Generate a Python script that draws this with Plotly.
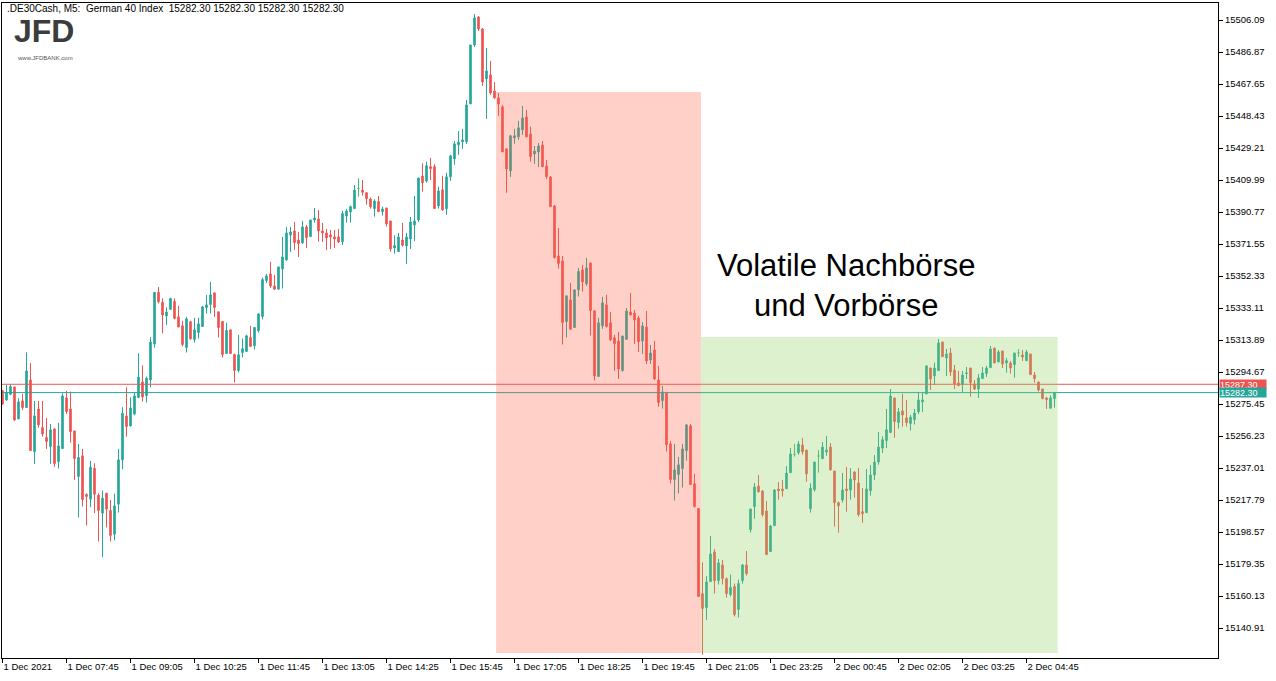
import plotly.graph_objects as go

# ---------------- data (M5 candles, .DE30Cash) ----------------
OPEN = [15283.5,15277.9,15281.3,15285.7,15266.5,15277.3,15273.3,15289.9,15246.9,15272.5,
        15261.3,15255.3,15249.9,15260.5,15240.9,15248.7,15279.1,15272.5,15259.3,15231.9,
        15244.3,15221.1,15218.3,15236.9,15220.7,15209.9,15221.9,15211.5,15197.3,15215.3,
        15241.9,15268.3,15262.3,15269.5,15279.3,15288.7,15280.5,15289.9,15311.5,15342.5,
        15336.5,15328.3,15332.3,15337.1,15327.8,15322.4,15309.4,15324.8,15314.2,15318.4,
        15322.0,15333.4,15335.2,15342.2,15330.8,15325.0,15305.8,15320.0,15305.2,15295.6,
        15306.4,15307.0,15315.4,15310.4,15319.6,15328.0,15349.6,15353.6,15346.4,15344.4,
        15356.6,15362.0,15377.0,15379.4,15374.0,15372.2,15381.8,15376.0,15386.0,15386.6,
        15379.4,15378.2,15377.0,15375.8,15375.8,15373.0,15388.4,15390.8,15392.8,15404.8,
        15404.0,15402.4,15398.6,15392.8,15397.0,15391.0,15393.2,15385.4,15369.2,15367.0,
        15374.0,15370.4,15374.6,15383.0,15386.0,15412.4,15409.4,15418.0,15418.0,15394.4,
        15404.1,15392.7,15411.9,15422.7,15431.1,15432.9,15432.9,15455.7,15491.1,15507.9,
        15500.7,15470.7,15473.1,15463.5,15459.3,15453.9,15428.7,15415.5,15435.3,15435.9,
        15440.1,15447.9,15437.6,15425.6,15426.8,15431.0,15418.4,15411.8,15394.4,15364.4,
        15361.4,15325.0,15338.0,15321.4,15344.0,15356.0,15347.6,15360.2,15331.4,15292.0,
        15322.4,15335.0,15324.2,15315.2,15313.3,15295.5,15314.3,15330.7,15330.1,15327.1,
        15313.3,15321.7,15301.9,15307.9,15289.9,15277.5,15281.9,15251.5,15230.1,15233.1,
        15236.7,15247.5,15262.3,15227.5,15212.7,15161.5,15153.2,15168.8,15186.6,15169.4,
        15178.8,15170.6,15161.0,15165.8,15152.0,15169.4,15178.8,15200.0,15213.8,15226.2,
        15223.2,15211.2,15186.8,15202.4,15224.4,15224.4,15224.6,15234.2,15245.2,15246.2,
        15250.8,15247.8,15212.6,15224.0,15244.2,15242.6,15246.6,15249.6,15235.2,15216.2,
        15217.8,15224.4,15223.8,15234.6,15228.0,15210.8,15210.2,15223.4,15232.8,15240.6,
        15249.0,15253.5,15258.3,15279.1,15264.3,15271.3,15267.1,15263.7,15266.1,15270.7,
        15276.7,15281.5,15297.1,15292.3,15295.5,15312.7,15303.1,15306.1,15295.9,15288.1,
        15287.5,15293.7,15297.1,15287.5,15284.5,15290.7,15293.7,15297.3,15309.1,15300.7,
        15307.3,15300.1,15300.1,15299.1,15306.1,15304.9,15301.5,15305.5,15292.9,15288.7,
        15284.5,15279.1,15272.9,15278.7]
HIGH = [15283.9,15286.9,15287.3,15285.7,15278.9,15281.5,15306.5,15300.1,15277.3,15277.3,
        15277.3,15267.1,15263.5,15260.9,15264.1,15281.9,15283.3,15282.9,15259.3,15251.5,
        15248.5,15221.9,15241.3,15239.9,15221.9,15223.5,15221.9,15217.9,15221.5,15248.5,
        15273.5,15285.5,15279.5,15282.3,15305.9,15298.7,15291.9,15315.7,15342.5,15345.7,
        15338.9,15333.5,15338.9,15338.9,15334.4,15325.4,15327.8,15325.4,15327.2,15327.2,
        15334.4,15341.0,15348.8,15342.2,15330.8,15325.0,15324.2,15320.0,15305.6,15317.0,
        15314.8,15317.0,15322.4,15321.4,15329.6,15351.4,15353.6,15360.8,15353.0,15357.8,
        15375.8,15381.8,15381.8,15384.8,15378.8,15385.4,15383.0,15386.0,15393.2,15392.0,
        15384.2,15380.6,15380.0,15380.0,15380.6,15391.4,15392.6,15394.6,15407.0,15411.0,
        15410.0,15402.4,15399.4,15398.4,15400.4,15394.0,15393.2,15385.4,15376.8,15378.2,
        15384.2,15378.2,15387.8,15400.4,15411.2,15420.0,15421.0,15423.2,15419.4,15406.0,
        15412.5,15414.3,15425.1,15433.5,15439.5,15440.7,15458.1,15491.1,15509.7,15508.5,
        15501.3,15489.3,15481.5,15468.9,15462.3,15455.1,15428.7,15437.1,15440.7,15445.5,
        15454.5,15452.1,15442.0,15430.4,15432.2,15433.4,15422.0,15412.4,15395.0,15381.2,
        15364.4,15340.4,15348.2,15344.0,15357.2,15359.0,15363.2,15360.2,15331.4,15327.2,
        15339.8,15341.0,15330.8,15317.0,15318.7,15316.3,15333.1,15342.1,15331.9,15328.3,
        15324.7,15331.3,15310.9,15313.3,15298.3,15286.3,15281.9,15253.3,15251.5,15243.7,
        15251.5,15263.5,15263.5,15233.5,15212.7,15180.3,15172.2,15196.2,15188.4,15182.4,
        15181.8,15171.2,15173.0,15167.6,15170.0,15179.4,15187.2,15212.4,15228.0,15232.8,
        15223.8,15217.2,15202.8,15224.4,15228.6,15229.8,15238.2,15249.0,15251.4,15253.2,
        15255.0,15247.8,15227.8,15240.6,15247.8,15252.6,15256.2,15252.0,15235.2,15216.8,
        15234.0,15237.6,15237.0,15235.2,15237.0,15225.0,15236.4,15238.8,15244.8,15258.6,
        15256.0,15272.5,15284.5,15279.1,15273.1,15281.5,15277.9,15268.9,15272.5,15282.7,
        15282.7,15298.9,15297.1,15300.3,15314.5,15312.7,15308.5,15309.1,15298.9,15295.3,
        15295.3,15297.7,15297.1,15289.9,15293.5,15297.7,15298.3,15310.3,15309.1,15307.9,
        15307.3,15303.1,15301.3,15306.1,15308.5,15307.9,15307.9,15305.5,15294.7,15288.7,
        15284.5,15279.7,15280.7,15282.3]
LOW = [15274.9,15277.3,15280.7,15265.3,15266.5,15271.9,15273.3,15247.5,15239.5,15261.3,
       15255.9,15248.5,15239.5,15237.7,15236.7,15248.7,15269.5,15252.3,15229.9,15207.3,
       15213.9,15202.5,15213.5,15209.9,15192.9,15183.5,15201.3,15192.9,15193.5,15210.3,
       15236.3,15255.9,15261.9,15268.7,15279.3,15276.9,15276.3,15285.5,15309.3,15335.9,
       15317.9,15322.9,15331.9,15326.3,15321.4,15310.0,15306.4,15314.0,15312.4,15314.8,
       15322.0,15329.8,15329.8,15327.8,15315.4,15303.4,15305.8,15305.8,15288.4,15294.4,
       15303.4,15307.0,15310.0,15308.2,15318.4,15326.2,15348.0,15345.2,15344.0,15344.4,
       15344.8,15361.4,15366.8,15368.0,15363.8,15371.6,15369.2,15376.0,15384.4,15373.0,
       15372.8,15368.0,15368.6,15369.2,15372.2,15371.0,15384.4,15384.4,15392.8,15400.0,
       15400.6,15395.2,15392.8,15388.0,15391.0,15388.6,15382.0,15367.0,15365.8,15367.0,
       15370.0,15359.6,15368.6,15373.4,15384.8,15403.0,15408.4,15410.0,15392.8,15392.8,
       15391.5,15389.1,15409.5,15419.1,15425.1,15428.7,15431.7,15455.7,15489.9,15499.5,
       15466.5,15446.7,15461.1,15458.7,15448.5,15426.9,15402.3,15411.9,15431.7,15434.1,
       15437.1,15435.9,15421.0,15419.6,15417.8,15418.0,15410.6,15394.0,15362.8,15356.8,
       15311.2,15315.4,15320.0,15321.4,15340.0,15343.0,15346.4,15316.6,15289.6,15292.0,
       15320.6,15321.4,15313.4,15295.4,15290.5,15294.9,15313.9,15328.9,15311.5,15306.7,
       15305.5,15299.5,15299.5,15289.9,15273.9,15272.7,15246.9,15227.7,15217.5,15221.7,
       15225.3,15241.5,15227.1,15213.3,15159.9,15124.9,15145.8,15168.8,15161.6,15167.0,
       15167.0,15159.2,15159.8,15147.8,15147.2,15167.6,15172.4,15198.2,15206.6,15222.2,
       15207.8,15185.0,15186.8,15202.4,15218.0,15219.8,15224.6,15234.2,15243.8,15245.0,
       15245.0,15228.8,15210.2,15222.8,15234.2,15242.6,15244.4,15235.4,15201.8,15198.2,
       15216.2,15210.8,15218.0,15219.2,15207.8,15204.2,15210.2,15220.4,15229.8,15239.0,
       15246.0,15249.0,15258.3,15255.3,15260.7,15261.9,15261.9,15259.5,15263.1,15269.5,
       15270.7,15281.5,15283.9,15286.9,15295.5,15303.9,15292.3,15292.3,15284.5,15286.1,
       15282.1,15290.5,15279.9,15283.9,15279.1,15290.7,15291.7,15297.3,15300.1,15300.7,
       15297.1,15294.3,15293.7,15291.3,15303.7,15301.3,15301.3,15293.1,15288.3,15282.9,
       15278.3,15272.5,15272.9,15273.3]
CLOSE = [15275.5,15282.5,15285.9,15265.9,15276.7,15273.3,15295.3,15247.5,15268.3,15262.9,
         15257.5,15252.9,15259.9,15239.7,15250.3,15280.3,15270.9,15258.9,15242.7,15243.3,
         15218.1,15219.9,15237.5,15221.3,15211.5,15218.9,15212.3,15196.5,15214.3,15241.9,
         15269.9,15261.9,15273.1,15280.3,15291.5,15279.7,15290.9,15312.7,15342.5,15336.9,
         15328.9,15330.7,15338.9,15326.9,15321.8,15311.2,15326.6,15314.6,15320.0,15323.6,
         15333.8,15335.0,15341.0,15333.4,15321.4,15305.2,15319.6,15305.8,15295.6,15305.0,
         15308.6,15316.4,15310.0,15321.4,15329.6,15350.2,15352.4,15346.4,15344.4,15357.8,
         15363.8,15378.2,15378.8,15372.4,15371.8,15381.8,15375.4,15386.0,15387.2,15379.4,
         15378.2,15375.2,15375.8,15374.6,15372.8,15389.8,15391.4,15394.0,15404.0,15404.8,
         15402.6,15398.8,15394.0,15397.4,15391.0,15392.6,15383.6,15368.6,15370.6,15375.8,
         15370.8,15375.8,15384.8,15385.4,15411.2,15408.4,15418.6,15416.8,15392.8,15403.4,
         15392.1,15411.9,15424.5,15431.7,15432.7,15434.1,15455.1,15491.1,15507.3,15500.7,
         15468.9,15475.5,15462.3,15459.3,15455.7,15426.9,15416.7,15436.5,15436.5,15441.3,
         15447.3,15435.9,15424.0,15427.4,15430.4,15418.0,15412.0,15394.0,15363.4,15359.8,
         15324.4,15340.4,15320.4,15344.0,15355.0,15348.8,15357.2,15331.6,15292.4,15324.2,
         15336.2,15322.0,15314.0,15311.6,15296.5,15316.3,15331.3,15328.9,15325.9,15312.9,
         15322.3,15301.3,15306.1,15290.5,15276.3,15282.7,15251.1,15230.1,15235.9,15238.9,
         15248.5,15262.9,15227.1,15213.9,15159.9,15152.7,15168.6,15185.4,15169.4,15180.0,
         15170.6,15161.6,15165.2,15149.0,15167.6,15178.8,15173.6,15212.4,15225.6,15222.8,
         15209.0,15185.0,15202.2,15223.8,15223.4,15223.4,15234.0,15245.4,15245.2,15251.4,
         15246.8,15233.6,15224.8,15240.6,15244.2,15249.6,15247.8,15236.0,15216.2,15214.4,
         15223.8,15223.4,15230.4,15229.8,15209.0,15209.6,15224.4,15232.8,15240.6,15249.6,
         15254.0,15260.0,15280.3,15264.9,15270.7,15268.9,15264.3,15267.5,15270.1,15277.9,
         15277.9,15298.3,15290.5,15297.1,15312.1,15303.9,15305.5,15294.7,15287.5,15286.5,
         15292.9,15294.1,15288.3,15284.5,15291.1,15294.1,15297.1,15308.5,15300.1,15306.7,
         15299.5,15301.5,15297.1,15306.1,15306.1,15303.7,15306.7,15293.1,15290.7,15283.9,
         15278.7,15278.1,15279.1,15282.3]

TIME_TICK_INDEX = [0, 16, 32, 48, 64, 80, 96, 112, 128, 144, 160, 176, 192, 208, 224, 240, 256]
TIME_TICK_LABELS = ["1 Dec 2021", "1 Dec 07:45", "1 Dec 09:05", "1 Dec 10:25", "1 Dec 11:45",
                    "1 Dec 13:05", "1 Dec 14:25", "1 Dec 15:45", "1 Dec 17:05", "1 Dec 18:25",
                    "1 Dec 19:45", "1 Dec 21:05", "1 Dec 23:25", "2 Dec 00:45", "2 Dec 02:05",
                    "2 Dec 03:25", "2 Dec 04:45"]
PRICE_TICKS = [15506.09, 15486.87, 15467.65, 15448.43, 15429.21, 15409.99, 15390.77, 15371.55,
               15352.33, 15333.11, 15313.89, 15294.67, 15275.45, 15256.23, 15237.01, 15217.79,
               15198.57, 15179.35, 15160.13, 15140.91]
ASK_PRICE = 15287.30
BID_PRICE = 15282.30
HEADER = ".DE30Cash, M5:  German 40 Index  15282.30 15282.30 15282.30 15282.30"
NOTE_LINES = ["Volatile Nachbörse", "und Vorbörse"]

# zones (candle index range, price range)
RED_ZONE = dict(x0=123.4, x1=174.6, y0=15125.9, y1=15462.8)
GREEN_ZONE = dict(x0=174.6, x1=263.8, y0=15125.9, y1=15315.7)

BULL = "#26A69A"
BEAR = "#EF5350"
DOJI = "#3DBE6E"

idx = list(range(len(OPEN)))
norm = [i for i in idx if OPEN[i] != CLOSE[i]]
doji = [i for i in idx if OPEN[i] == CLOSE[i]]

def pick(arr, ids):
    return [arr[i] for i in ids]

fig = go.Figure()
fig.add_trace(go.Candlestick(
    x=norm, open=pick(OPEN, norm), high=pick(HIGH, norm), low=pick(LOW, norm), close=pick(CLOSE, norm),
    increasing=dict(line=dict(color=BULL, width=1), fillcolor=BULL),
    decreasing=dict(line=dict(color=BEAR, width=1), fillcolor=BEAR),
    whiskerwidth=0, showlegend=False, hoverinfo="skip"))
fig.add_trace(go.Candlestick(
    x=doji, open=pick(OPEN, doji), high=pick(HIGH, doji), low=pick(LOW, doji), close=pick(CLOSE, doji),
    increasing=dict(line=dict(color=DOJI, width=1), fillcolor=DOJI),
    decreasing=dict(line=dict(color=DOJI, width=1), fillcolor=DOJI),
    whiskerwidth=0, showlegend=False, hoverinfo="skip"))

shapes = [
    dict(type="line", xref="paper", x0=0, x1=1, yref="y", y0=ASK_PRICE, y1=ASK_PRICE,
         line=dict(color=BEAR, width=1), layer="above"),
    dict(type="line", xref="paper", x0=0, x1=1, yref="y", y0=BID_PRICE, y1=BID_PRICE,
         line=dict(color=BULL, width=1), layer="above"),
    dict(type="rect", xref="x", yref="y", **RED_ZONE, fillcolor="#FF6347", opacity=0.3,
         line=dict(width=0), layer="above"),
    dict(type="rect", xref="x", yref="y", **GREEN_ZONE, fillcolor="#8FD060", opacity=0.3,
         line=dict(width=0), layer="above"),
]

ann = []
ann.append(dict(xref="paper", yref="paper", x=0.0025, y=0.991, xanchor="left", yanchor="middle",
                text=HEADER, showarrow=False, font=dict(size=10, color="#000000")))
ann.append(dict(xref="paper", yref="paper", x=0.0085, y=0.958, xanchor="left", yanchor="middle",
                text="<b>JFD</b>", showarrow=False,
                font=dict(size=32, color="#3C3C3C", family="Liberation Sans")))
ann.append(dict(xref="paper", yref="paper", x=0.0105, y=0.916, xanchor="left", yanchor="middle",
                text="www.JFDBANK.com", showarrow=False,
                font=dict(size=6, color="#555555", family="Liberation Sans")))
mid_x = 210.9
ann.append(dict(xref="x", yref="y", x=mid_x, y=15358.9, text=NOTE_LINES[0], showarrow=False,
                font=dict(size=31, color="#000000", family="Liberation Sans")))
ann.append(dict(xref="x", yref="y", x=mid_x, y=15334.9, text=NOTE_LINES[1], showarrow=False,
                font=dict(size=31, color="#000000", family="Liberation Sans")))
for price, col in [(ASK_PRICE, BEAR), (BID_PRICE, BULL)]:
    ann.append(dict(xref="paper", yref="y", x=1.0, y=price, xanchor="left", yanchor="middle",
                    xshift=1, text=f"{price:.2f}", showarrow=False, bgcolor=col, borderpad=0,
                    width=46, height=9, align="left",
                    font=dict(size=9, color="#FFFFFF")))

fig.update_layout(
    width=1276, height=681,
    margin=dict(l=2, r=58, t=3, b=23),
    paper_bgcolor="#FFFFFF", plot_bgcolor="#FFFFFF",
    font=dict(family="Liberation Sans, Arial, sans-serif", size=9.5, color="#000000"),
    showlegend=False, boxgap=0.45,
    shapes=shapes, annotations=ann,
    xaxis=dict(range=[-0.125, 303.875], showgrid=False, zeroline=False,
               tickmode="array", tickvals=TIME_TICK_INDEX, ticktext=TIME_TICK_LABELS,
               ticks="outside", ticklen=4, tickcolor="#000000", ticklabelposition="outside right",
               showline=True, linecolor="#000000", linewidth=1, mirror=True,
               rangeslider=dict(visible=False), fixedrange=True),
    yaxis=dict(range=[15122.9, 15516.3], side="right", showgrid=False, zeroline=False,
               tickmode="array", tickvals=PRICE_TICKS, ticktext=[f"{v:.2f}" for v in PRICE_TICKS],
               ticks="outside", ticklen=4, tickcolor="#000000",
               showline=True, linecolor="#000000", linewidth=1, mirror=True, fixedrange=True),
)

fig.write_html("out.html", config={"displayModeBar": False},
               post_script="document.body.style.margin='0px';document.body.style.overflow='hidden';")
